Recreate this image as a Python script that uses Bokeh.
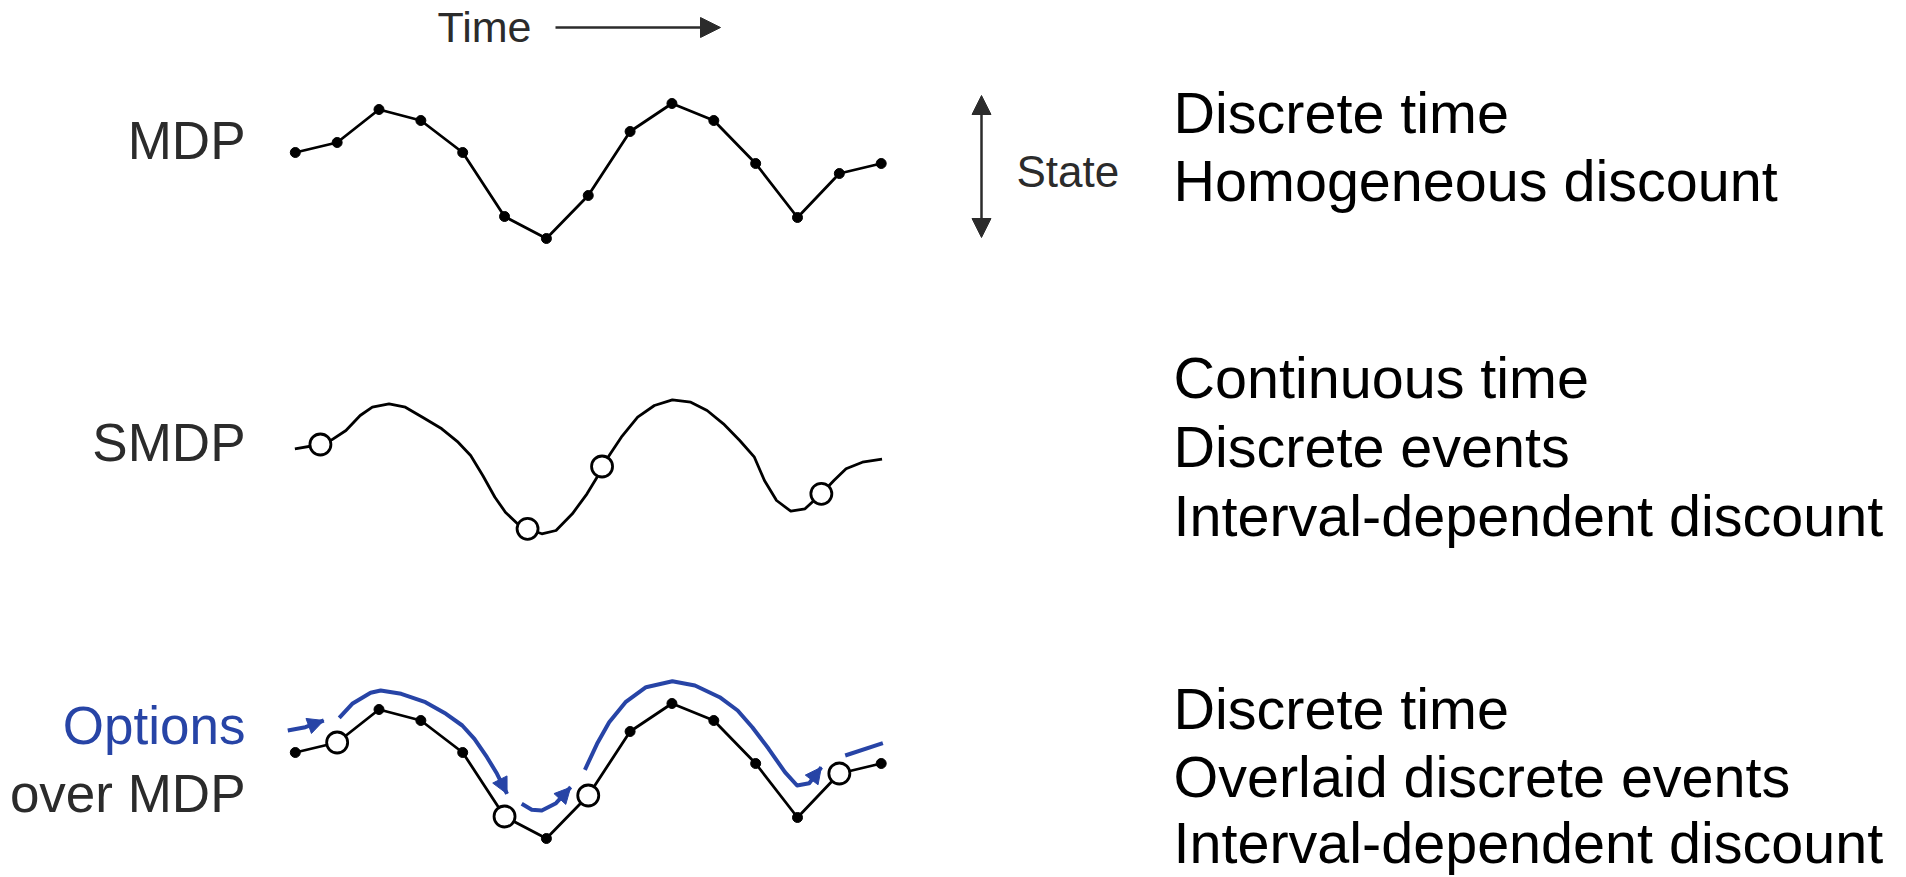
from bokeh.plotting import figure
from bokeh.models import Range1d, Label, Arrow, NormalHead
from bokeh.embed import file_html
from bokeh.resources import INLINE

# ---------------- data ----------------
# MDP trajectory: discrete time steps and state level
mdp_time = list(range(15))
mdp_state = [88, 98, 131, 120, 88, 24, 2, 45, 109, 137, 120, 77, 23, 67, 77]

# option-termination (event) steps in the "Options over MDP" row
option_event_idx = [1, 5, 7, 13]

# SMDP continuous trajectory (time, state)
smdp_t = [-0.01, 0.60, 0.87, 1.21, 1.55, 1.84, 2.24, 2.63, 3.06, 3.50, 3.89, 4.19,
          4.48, 4.77, 5.02, 5.31, 5.55, 5.89, 6.23, 6.62, 6.97, 7.21, 7.33, 7.50,
          7.79, 8.18, 8.58, 9.01, 9.45, 9.84, 10.23, 10.62, 10.97, 11.21, 11.50,
          11.84, 12.18, 12.57, 12.87, 13.16, 13.55, 14.02]
smdp_s = [86.7, 91, 95.7, 105, 120, 128.3, 131.7, 128.3, 117.7, 106.7, 93.3, 80,
          60, 38.3, 23.3, 11.7, 6.7, 1.7, 5, 21.7, 41.7, 58.3, 69, 80,
          98.3, 118.3, 130, 135.7, 133.3, 125, 111.7, 95, 78.3, 55, 35,
          24.3, 26.7, 41.7, 55, 66.7, 73.3, 76.3]
# SMDP decision events
smdp_event_t = [0.60, 5.55, 7.33, 12.57]
smdp_event_s = [91, 6.7, 69, 41.7]

# Options (blue) trajectories
opt_a_t = [-0.18, 0.24, 0.68]
opt_a_s = [110, 113.3, 120]
opt_b_t = [1.05, 1.36, 1.80, 2.04, 2.53, 3.11, 3.60, 3.99, 4.28, 4.58, 4.82, 5.06]
opt_b_s = [122.7, 136.7, 147.7, 150, 146.7, 138.3, 126.7, 115, 101.7, 83.3, 66.7, 46.7]
opt_c_t = [5.41, 5.65, 5.89, 6.23, 6.58]
opt_c_s = [36.7, 30.7, 30, 37.3, 53.3]
opt_d_t = [6.92, 7.21, 7.50, 7.89, 8.38, 9.01, 9.55, 10.14, 10.57, 10.92, 11.31,
           11.70, 11.99, 12.28, 12.57]
opt_d_s = [70.7, 96.7, 118.3, 138.3, 153.3, 159.3, 155, 143.3, 130, 113.3, 91.7,
           68.3, 55, 57.3, 73.3]
opt_e_t = [13.14, 14.04]
opt_e_s = [85, 97.3]

row_labels = ["MDP", "SMDP", "Options", "over MDP"]
right_texts = [
    ["Discrete time", "Homogeneous discount"],
    ["Continuous time", "Discrete events", "Interval-dependent discount"],
    ["Discrete time", "Overlaid discrete events", "Interval-dependent discount"],
]

# ---------------- layout ----------------
W, H = 1904, 876
OFF = 0                          # page offset of the canvas
X0, DX = 294.8, 41.85            # page x of t=0, px per time step


def px2t(x):
    return (x - X0) / DX


ROW_BASE = [240, 535, 840]       # page y of state 0 for each row
BLACK = "#000000"
GREY = "#2b2b2b"
BLUE = "#2744a6"
FONT = "Liberation Sans"

p = figure(width=W, height=H, output_backend="svg", toolbar_location=None,
           x_range=Range1d(px2t(OFF), px2t(OFF + W)), y_range=Range1d(OFF + H, OFF),
           min_border=0, background_fill_color="white", border_fill_color="white")
p.axis.visible = False
p.grid.visible = False
p.outline_line_color = None


def ys(states, row):
    return [ROW_BASE[row] - s for s in states]


LW = 2.8
# Row 1: MDP
p.line(mdp_time, ys(mdp_state, 0), line_color=BLACK, line_width=LW, line_join="round")
p.scatter(mdp_time, ys(mdp_state, 0), size=10, fill_color=BLACK, line_color=BLACK)

# Row 2: SMDP
p.line(smdp_t, ys(smdp_s, 1), line_color=BLACK, line_width=LW, line_join="round")
p.scatter(smdp_event_t, ys(smdp_event_s, 1), size=21, fill_color="white",
          line_color=BLACK, line_width=LW)

# Row 3: Options over MDP
p.line(mdp_time, ys(mdp_state, 2), line_color=BLACK, line_width=LW, line_join="round")
reg_t = [t for i, t in enumerate(mdp_time) if i not in option_event_idx]
reg_s = [s for i, s in enumerate(mdp_state) if i not in option_event_idx]
ev_t = [mdp_time[i] for i in option_event_idx]
ev_s = [mdp_state[i] for i in option_event_idx]
p.scatter(reg_t, ys(reg_s, 2), size=10, fill_color=BLACK, line_color=BLACK)
p.scatter(ev_t, ys(ev_s, 2), size=21, fill_color="white", line_color=BLACK, line_width=LW)

for tt, ss, head in [(opt_a_t, opt_a_s, True), (opt_b_t, opt_b_s, True),
                     (opt_c_t, opt_c_s, True), (opt_d_t, opt_d_s, True),
                     (opt_e_t, opt_e_s, False)]:
    yy = ys(ss, 2)
    p.line(tt, yy, line_color=BLUE, line_width=4, line_join="round", line_cap="butt")
    if head:
        p.add_layout(Arrow(end=NormalHead(size=16, fill_color=BLUE, line_color=BLUE),
                           x_start=tt[-2], y_start=yy[-2], x_end=tt[-1], y_end=yy[-1],
                           line_color=BLUE, line_width=4, line_alpha=0))

# Time arrow
p.add_layout(Arrow(end=NormalHead(size=20, fill_color=GREY, line_color=GREY),
                   x_start=px2t(555), y_start=27, x_end=px2t(720), y_end=27,
                   line_color=GREY, line_width=2.5))


def label(x, y, txt, size, color, align):
    p.add_layout(Label(x=px2t(x), y=y, text=txt, text_font=FONT, text_font_size=size,
                       text_color=color, text_baseline="middle", text_align=align))


label(437, 26, "Time", "43px", GREY, "left")

# State double arrow
p.add_layout(Arrow(start=NormalHead(size=19, fill_color=GREY, line_color=GREY),
                   end=NormalHead(size=19, fill_color=GREY, line_color=GREY),
                   x_start=px2t(981), y_start=95, x_end=px2t(981), y_end=237,
                   line_color=GREY, line_width=2.5))
label(1016, 171, "State", "44px", GREY, "left")

# Left row labels
left_center = [140, 442, 725, 793]
left_col = [GREY, GREY, BLUE, GREY]
for txt, c_y, c in zip(row_labels, left_center, left_col):
    label(245, c_y, txt, "53px", c, "right")

# Right descriptions
right_center = [[112, 180], [377, 446, 515], [708, 776, 842]]
for group, centers in zip(right_texts, right_center):
    for txt, c_y in zip(group, centers):
        label(1173, c_y, txt, "57.5px", BLACK, "left")

open("out.html", "w").write(file_html(p, INLINE))
